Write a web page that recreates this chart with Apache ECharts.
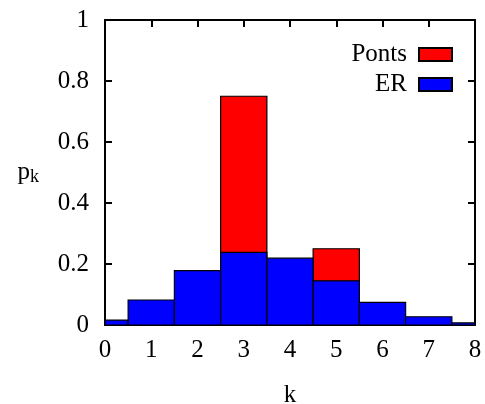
<!DOCTYPE html>
<html>
<head>
<meta charset="utf-8">
<script src="https://cdn.jsdelivr.net/npm/echarts@6/dist/echarts.min.js"></script>
<style>html,body{margin:0;padding:0;background:#fff}#c{width:485px;height:404px}</style>
</head>
<body>
<div id="c"></div>
<script>
const kValues = [0, 1, 2, 3, 4, 5, 6, 7, 8];
const erValues = [0.016, 0.082, 0.178, 0.238, 0.219, 0.145, 0.074, 0.027, 0.007];
const pontsK = [3, 5];
const pontsValues = [0.75, 0.25];
const xTicks = [0, 1, 2, 3, 4, 5, 6, 7, 8];
const yTicks = [0, 0.2, 0.4, 0.6, 0.8, 1];

const FONT = 'Liberation Serif';
const FS = 25;
const chart = echarts.init(document.getElementById('c'));

function makeRender(color) {
  return function (params, api) {
    const x = api.value(0), y = api.value(1);
    const p0 = api.coord([x - 0.5, y]);
    const p1 = api.coord([x + 0.5, 0]);
    const rect = echarts.graphic.clipRectByRect(
      { x: p0[0], y: p0[1], width: p1[0] - p0[0], height: p1[1] - p0[1] },
      params.coordSys
    );
    if (!rect) return null;
    return { type: 'rect', shape: rect, style: { fill: color, stroke: '#000', lineWidth: 1.2 } };
  };
}

function axisCommon() {
  return {
    axisLine: { show: true, onZero: false, lineStyle: { color: '#000', width: 2 } },
    axisTick: { show: true, inside: true, length: 7, lineStyle: { color: '#000', width: 2 } },
    splitLine: { show: false }
  };
}

chart.setOption({
  animation: false,
  textStyle: { fontFamily: FONT },
  grid: { left: 105, right: 10, top: 20, bottom: 79, outerBoundsMode: 'none', containLabel: false },
  legend: {
    orient: 'vertical',
    right: 27,
    top: 37,
    align: 'right',
    itemWidth: 33,
    itemHeight: 13,
    itemGap: 5,
    icon: 'rect',
    textStyle: { fontFamily: FONT, fontSize: FS, color: '#000', lineHeight: 22, padding: [0, 7, 0, 0] },
    data: ['Ponts', 'ER']
  },
  xAxis: [
    Object.assign({
      type: 'value', min: 0, max: 8, interval: 1, position: 'bottom',
      name: 'k', nameLocation: 'middle', nameGap: 58,
      nameTextStyle: { fontFamily: FONT, fontSize: FS, color: '#000' },
      axisLabel: { color: '#000', fontSize: FS, fontFamily: FONT, margin: 13,
        formatter: v => String(xTicks[Math.round(v)]) }
    }, axisCommon()),
    Object.assign({
      type: 'value', min: 0, max: 8, interval: 1, position: 'top',
      axisLabel: { show: false }
    }, axisCommon())
  ],
  yAxis: [
    Object.assign({
      type: 'value', min: 0, max: 1, interval: 0.2, position: 'left',
      name: '{p|p}{k|k}', nameLocation: 'middle', nameRotate: 0, nameGap: 66,
      nameTextStyle: { rich: {
        p: { fontFamily: FONT, fontSize: FS, color: '#000' },
        k: { fontFamily: FONT, fontSize: 18, color: '#000', padding: [10, 0, 0, 0] }
      } },
      axisLabel: { color: '#000', fontSize: FS, fontFamily: FONT, margin: 16,
        formatter: v => { const t = yTicks.find(q => Math.abs(q - v) < 1e-6); return t === undefined ? '' : String(t); } }
    }, axisCommon()),
    Object.assign({
      type: 'value', min: 0, max: 1, interval: 0.2, position: 'right',
      axisLabel: { show: false }
    }, axisCommon())
  ],
  series: [
    {
      name: 'Ponts', type: 'custom', xAxisIndex: 0, yAxisIndex: 0,
      itemStyle: { color: '#ff0000', borderColor: '#000', borderWidth: 1 },
      renderItem: makeRender('#ff0000'),
      encode: { x: 0, y: 1 },
      data: pontsK.map((k, i) => [k, pontsValues[i]]),
      z: 1
    },
    {
      name: 'ER', type: 'custom', xAxisIndex: 0, yAxisIndex: 0,
      itemStyle: { color: '#0000ff', borderColor: '#000', borderWidth: 1 },
      renderItem: makeRender('#0000ff'),
      encode: { x: 0, y: 1 },
      data: kValues.map((k, i) => [k, erValues[i]]),
      z: 2
    }
  ]
});
</script>
</body>
</html>
